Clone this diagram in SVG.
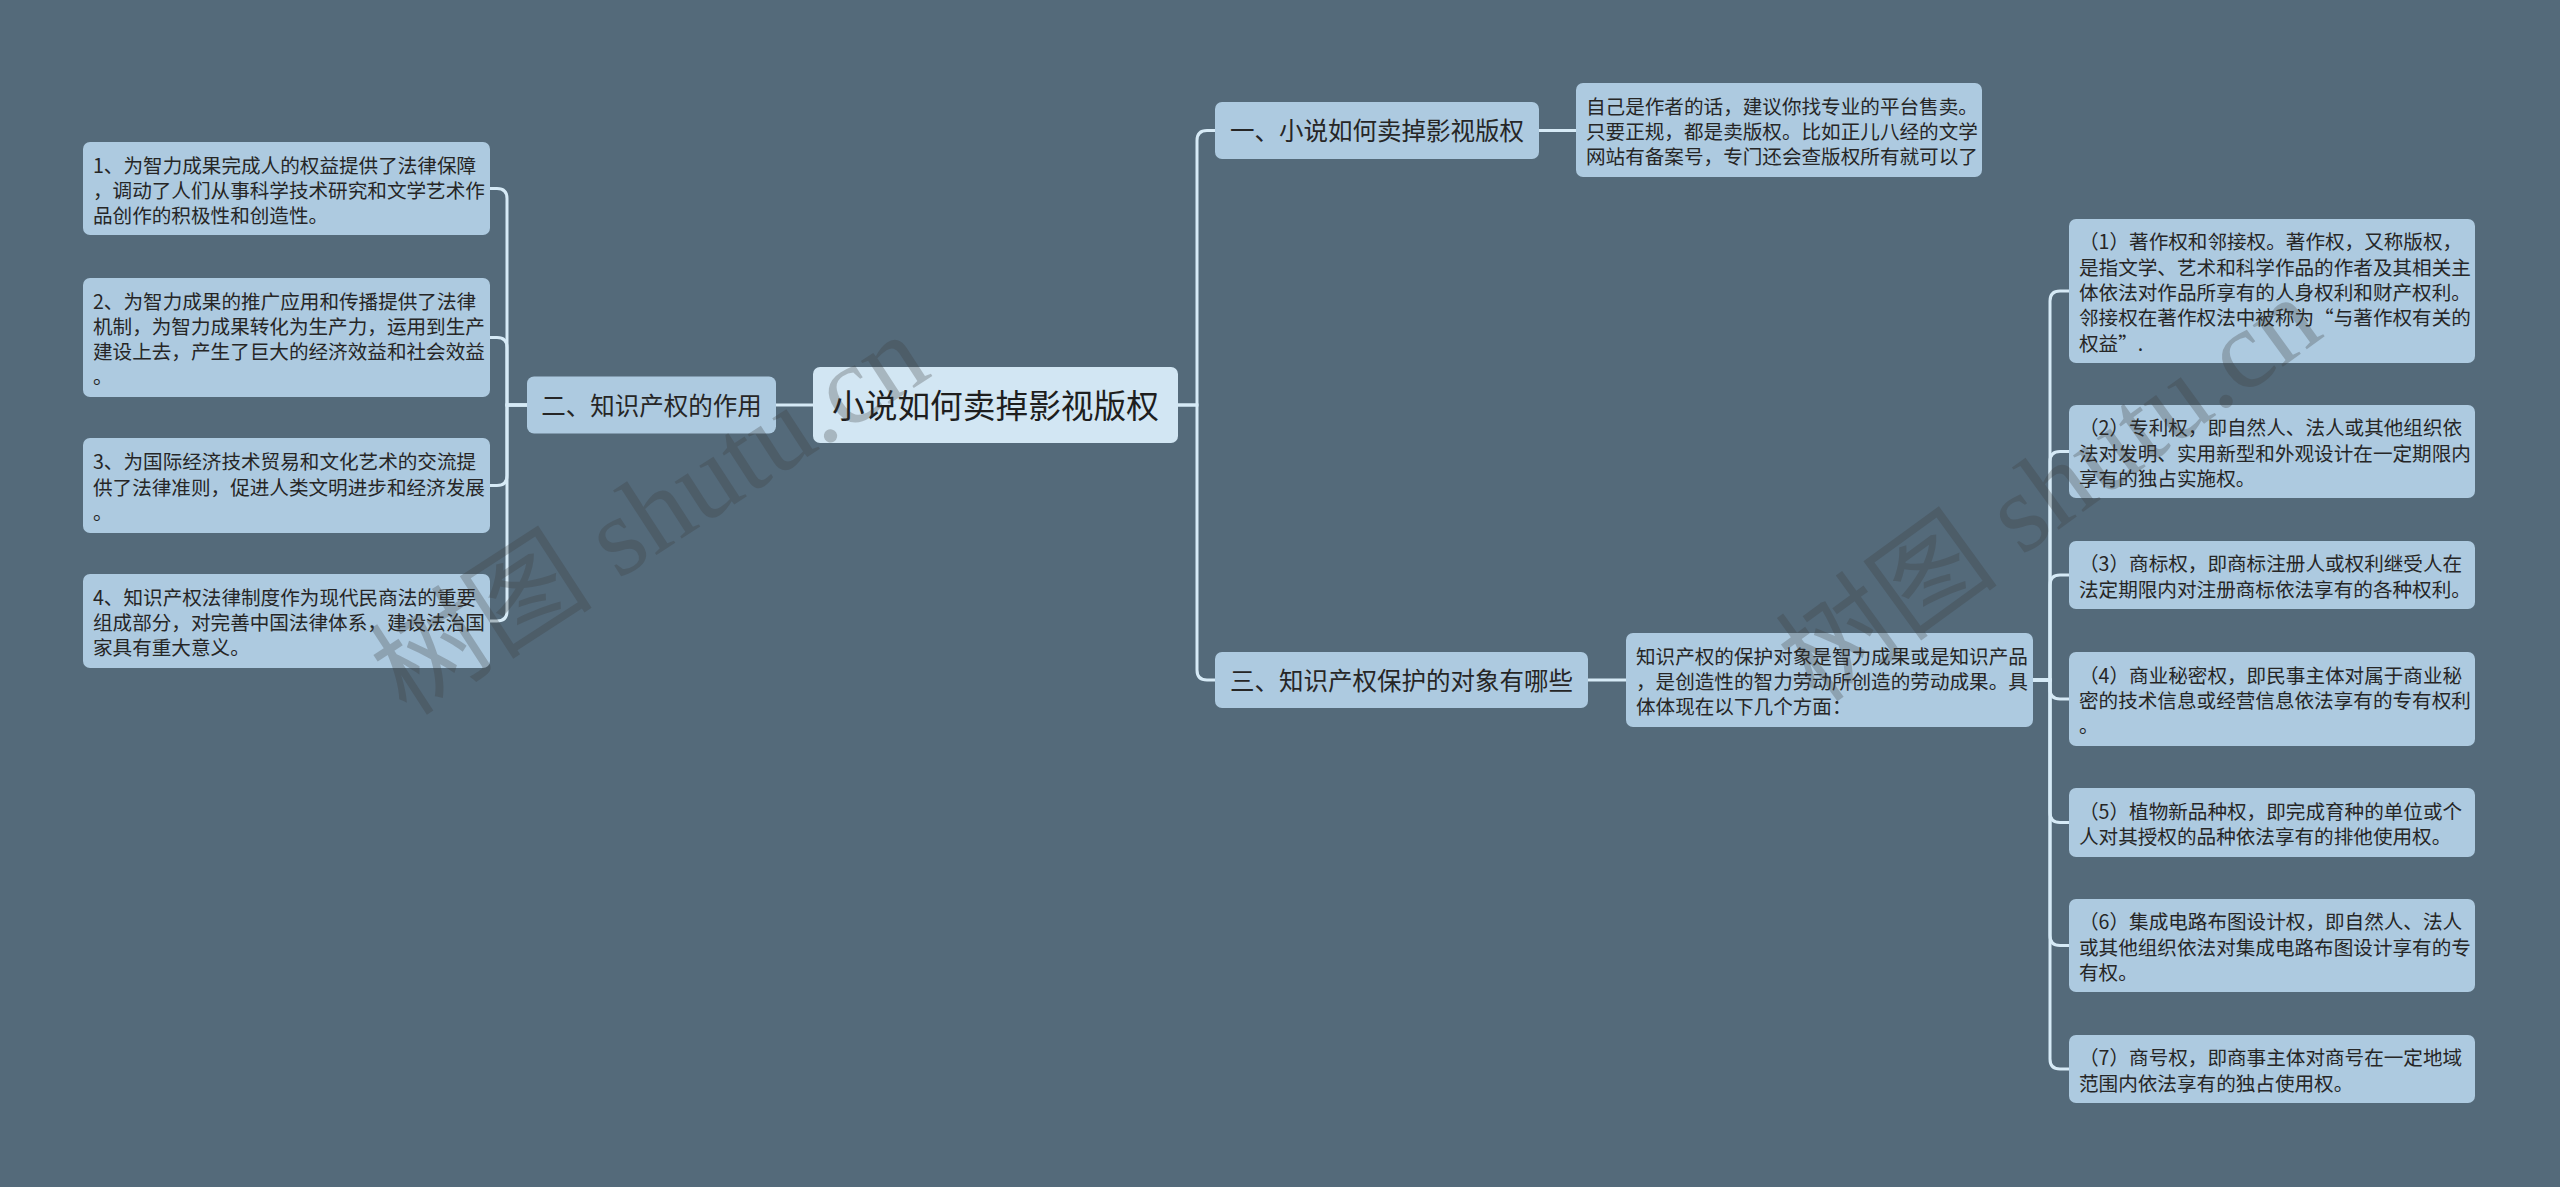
<svg xmlns="http://www.w3.org/2000/svg" width="2560" height="1187" viewBox="0 0 2560 1187">
<style>
.bg{fill:#546a7a}
.leaf{fill:#adcae0}
.root{fill:#d2e6f3}
.t{font-family:"Noto Sans CJK SC","Noto Sans",sans-serif;fill:#262626}
.lt{font-size:19.6px}
.bt{font-size:24.5px;text-anchor:middle}
.rt{font-size:32.7px;text-anchor:middle;fill:#1e1e1e}
.wm{font-family:"Liberation Serif","Noto Sans CJK SC",serif;font-size:112px;fill:#3c3c3c;opacity:0.28;text-anchor:middle}
#connectors path{fill:none;stroke:#d6eaf6;stroke-width:3}
</style>
<rect class="bg" x="0" y="0" width="2560" height="1187"/>

<g id="connectors">
<path d="M527 405 H507 V198.5 Q507 188.5 497 188.5 H490"/>
<path d="M527 405 H507 V347.5 Q507 337.5 497 337.5 H490"/>
<path d="M527 405 H507 V475.5 Q507 485.5 497 485.5 H490"/>
<path d="M527 405 H507 V611 Q507 621 497 621 H490"/>
<path d="M776 405 H813"/>
<path d="M1178 405 H1197 V140.5 Q1197 130.5 1207 130.5 H1215"/>
<path d="M1178 405 H1197 V670 Q1197 680 1207 680 H1215"/>
<path d="M1539 130.5 H1576"/>
<path d="M1588 680 H1626"/>
<path d="M2033 680 H2050 V301 Q2050 291 2060 291 H2069"/>
<path d="M2033 680 H2050 V461.5 Q2050 451.5 2060 451.5 H2069"/>
<path d="M2033 680 H2050 V585 Q2050 575 2060 575 H2069"/>
<path d="M2033 680 H2050 V689 Q2050 699 2060 699 H2069"/>
<path d="M2033 680 H2050 V812.5 Q2050 822.5 2060 822.5 H2069"/>
<path d="M2033 680 H2050 V935.5 Q2050 945.5 2060 945.5 H2069"/>
<path d="M2033 680 H2050 V1059 Q2050 1069 2060 1069 H2069"/>
</g>

<g id="root">
<rect class="root" x="813" y="367" width="365" height="76" rx="7"/>
<text class="t rt" x="995.5" y="418">小说如何卖掉影视版权</text>
</g>

<g id="b2">
<rect class="leaf" x="527" y="376.5" width="249" height="57" rx="7"/>
<text class="t bt" x="651.5" y="415">二、知识产权的作用</text>
</g>

<g id="l1">
<rect class="leaf" x="83" y="142" width="407" height="93" rx="7"/>
<text class="t lt"><tspan x="93" y="172.5">1、为智力成果完成人的权益提供了法律保障</tspan><tspan x="93" y="197.8">，调动了人们从事科学技术研究和文学艺术作</tspan><tspan x="93" y="223.1">品创作的积极性和创造性。</tspan></text>
</g>
<g id="l2">
<rect class="leaf" x="83" y="278" width="407" height="119" rx="7"/>
<text class="t lt"><tspan x="93" y="308.5">2、为智力成果的推广应用和传播提供了法律</tspan><tspan x="93" y="333.8">机制，为智力成果转化为生产力，运用到生产</tspan><tspan x="93" y="359.1">建设上去，产生了巨大的经济效益和社会效益</tspan><tspan x="93" y="384.4">。</tspan></text>
</g>
<g id="l3">
<rect class="leaf" x="83" y="438" width="407" height="95" rx="7"/>
<text class="t lt"><tspan x="93" y="469.2">3、为国际经济技术贸易和文化艺术的交流提</tspan><tspan x="93" y="494.5">供了法律准则，促进人类文明进步和经济发展</tspan><tspan x="93" y="519.8">。</tspan></text>
</g>
<g id="l4">
<rect class="leaf" x="83" y="574" width="407" height="94" rx="7"/>
<text class="t lt"><tspan x="93" y="604.7">4、知识产权法律制度作为现代民商法的重要</tspan><tspan x="93" y="630">组成部分，对完善中国法律体系，建设法治国</tspan><tspan x="93" y="655.3">家具有重大意义。</tspan></text>
</g>

<g id="b1">
<rect class="leaf" x="1215" y="102" width="324" height="57" rx="7"/>
<text class="t bt" x="1377" y="140">一、小说如何卖掉影视版权</text>
</g>
<g id="d1">
<rect class="leaf" x="1576" y="83" width="406" height="94" rx="7"/>
<text class="t lt"><tspan x="1586" y="113.7">自己是作者的话，建议你找专业的平台售卖。</tspan><tspan x="1586" y="139">只要正规，都是卖版权。比如正儿八经的文学</tspan><tspan x="1586" y="164.3">网站有备案号，专门还会查版权所有就可以了</tspan></text>
</g>

<g id="b3">
<rect class="leaf" x="1215" y="652" width="373" height="56" rx="7"/>
<text class="t bt" x="1401.5" y="689.5">三、知识产权保护的对象有哪些</text>
</g>
<g id="d3">
<rect class="leaf" x="1626" y="633" width="407" height="94" rx="7"/>
<text class="t lt"><tspan x="1636" y="663.7">知识产权的保护对象是智力成果或是知识产品</tspan><tspan x="1636" y="689">，是创造性的智力劳动所创造的劳动成果。具</tspan><tspan x="1636" y="714.3">体体现在以下几个方面：</tspan></text>
</g>

<g id="r1">
<rect class="leaf" x="2069" y="219" width="406" height="144" rx="7"/>
<text class="t lt"><tspan x="2079" y="249.4">（1）著作权和邻接权。著作权，又称版权，</tspan><tspan x="2079" y="274.7">是指文学、艺术和科学作品的作者及其相关主</tspan><tspan x="2079" y="300">体依法对作品所享有的人身权利和财产权利。</tspan><tspan x="2079" y="325.3">邻接权在著作权法中被称为“与著作权有关的</tspan><tspan x="2079" y="350.6">权益”.</tspan></text>
</g>
<g id="r2">
<rect class="leaf" x="2069" y="405" width="406" height="93" rx="7"/>
<text class="t lt"><tspan x="2079" y="435.2">（2）专利权，即自然人、法人或其他组织依</tspan><tspan x="2079" y="460.5">法对发明、实用新型和外观设计在一定期限内</tspan><tspan x="2079" y="485.8">享有的独占实施权。</tspan></text>
</g>
<g id="r3">
<rect class="leaf" x="2069" y="541" width="406" height="68" rx="7"/>
<text class="t lt"><tspan x="2079" y="571.4">（3）商标权，即商标注册人或权利继受人在</tspan><tspan x="2079" y="596.7">法定期限内对注册商标依法享有的各种权利。</tspan></text>
</g>
<g id="r4">
<rect class="leaf" x="2069" y="652" width="406" height="94" rx="7"/>
<text class="t lt"><tspan x="2079" y="682.7">（4）商业秘密权，即民事主体对属于商业秘</tspan><tspan x="2079" y="708">密的技术信息或经营信息依法享有的专有权利</tspan><tspan x="2079" y="733.3">。</tspan></text>
</g>
<g id="r5">
<rect class="leaf" x="2069" y="788" width="406" height="69" rx="7"/>
<text class="t lt"><tspan x="2079" y="818.9">（5）植物新品种权，即完成育种的单位或个</tspan><tspan x="2079" y="844.2">人对其授权的品种依法享有的排他使用权。</tspan></text>
</g>
<g id="r6">
<rect class="leaf" x="2069" y="899" width="406" height="93" rx="7"/>
<text class="t lt"><tspan x="2079" y="929.2">（6）集成电路布图设计权，即自然人、法人</tspan><tspan x="2079" y="954.5">或其他组织依法对集成电路布图设计享有的专</tspan><tspan x="2079" y="979.8">有权。</tspan></text>
</g>
<g id="r7">
<rect class="leaf" x="2069" y="1035" width="406" height="68" rx="7"/>
<text class="t lt"><tspan x="2079" y="1065.4">（7）商号权，即商事主体对商号在一定地域</tspan><tspan x="2079" y="1090.7">范围内依法享有的独占使用权。</tspan></text>
</g>

<text class="wm" x="650" y="552" transform="rotate(-33 650 515)">树图 shutu.cn</text>
<text class="wm" x="2050" y="527" transform="rotate(-36 2050 490)">树图 shutu.cn</text>
</svg>
